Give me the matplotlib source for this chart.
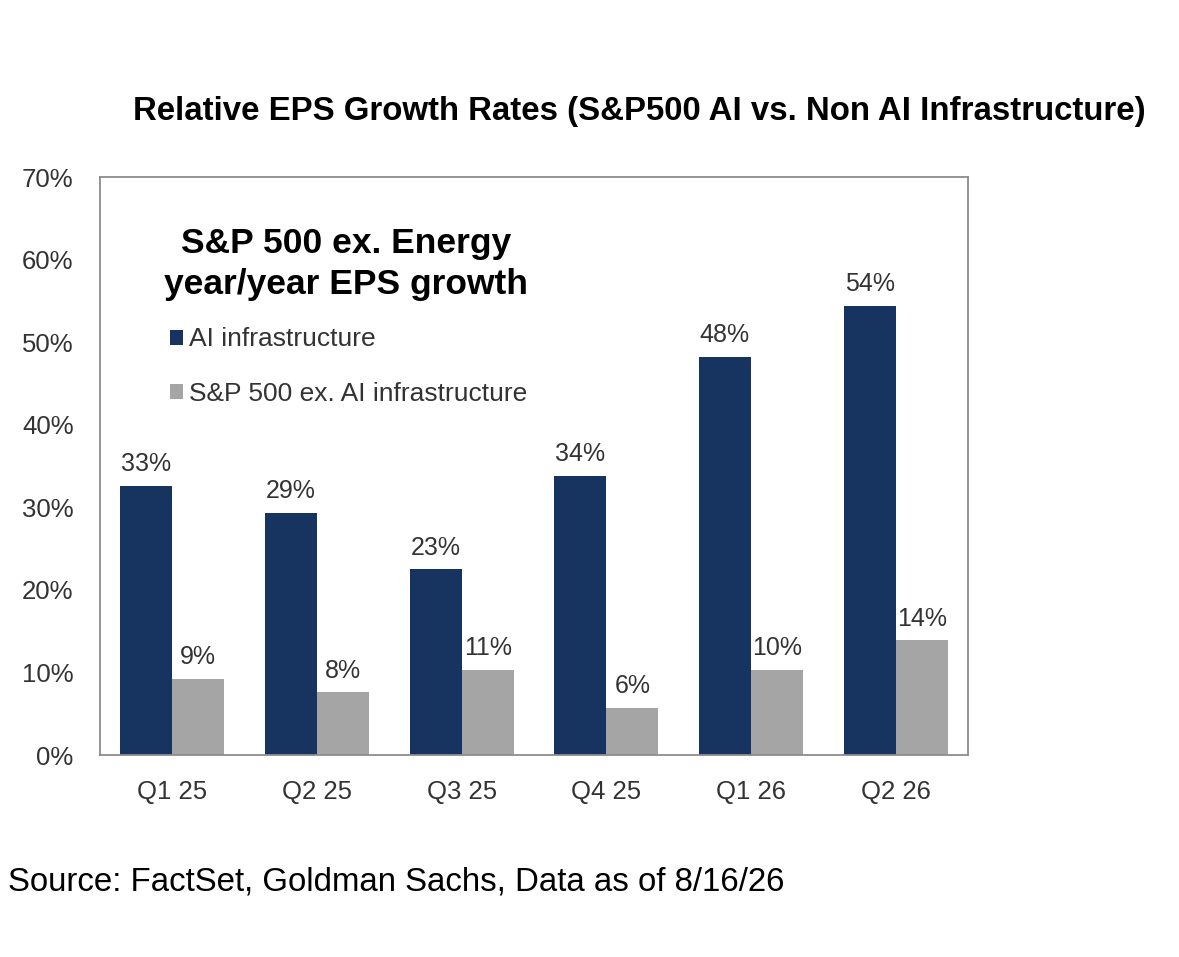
import numpy as np
import matplotlib.pyplot as plt

plt.rcParams['font.family'] = ['Liberation Sans', 'DejaVu Sans']

quarters = ["Q1 25", "Q2 25", "Q3 25", "Q4 25", "Q1 26", "Q2 26"]
ai_infra = [32.6, 29.3, 22.5, 33.8, 48.2, 54.4]
ex_ai = [9.2, 7.6, 10.3, 5.7, 10.3, 13.9]
ai_labels = ["33%", "29%", "23%", "34%", "48%", "54%"]
ex_ai_labels = ["9%", "8%", "11%", "6%", "10%", "14%"]

navy = "#17335f"
grey = "#a5a5a5"

fig = plt.figure(figsize=(11.79, 9.57), dpi=100)
ax = fig.add_axes([0.0848, 0.211, 0.7362, 0.604])

x = np.arange(len(quarters))
w = 0.36
b1 = ax.bar(x - w / 2, ai_infra, w, color=navy, label="AI infrastructure")
b2 = ax.bar(x + w / 2, ex_ai, w, color=grey, label="S&P 500 ex. AI infrastructure")

for bars, labs in [(b1, ai_labels), (b2, ex_ai_labels)]:
    for bar, lab in zip(bars, labs):
        ax.annotate(lab, (bar.get_x() + bar.get_width() / 2, bar.get_height()),
                    xytext=(0, 7), textcoords="offset points", ha="center", va="bottom",
                    fontsize=18, color="#333333")

ax.set_xlim(-0.5, len(quarters) - 0.5)
ax.set_ylim(0, 70)
ax.set_yticks(range(0, 71, 10))
ax.set_yticklabels([f"{v}%" for v in range(0, 71, 10)])
ax.set_xticks(x)
ax.set_xticklabels(quarters)
ax.tick_params(length=0, labelsize=18.5, labelcolor="#333333")
ax.tick_params(axis="y", pad=19)
ax.tick_params(axis="x", pad=18)
for s in ax.spines.values():
    s.set_color("#8c8c8c")
    s.set_linewidth(1.3)

ax.text(0.283, 0.85, "S&P 500 ex. Energy\nyear/year EPS growth", transform=ax.transAxes,
        ha="center", va="center", fontsize=25.5, fontweight="bold", linespacing=1.3)

leg = ax.legend(loc="upper left", bbox_to_anchor=(0.068, 0.758), frameon=False,
                fontsize=19, handlelength=0.5, handleheight=0.5, handletextpad=0.25,
                labelspacing=1.15, borderaxespad=0)
for t in leg.get_texts():
    t.set_color("#333333")

fig.text(0.542, 0.884, "Relative EPS Growth Rates (S&P500 AI vs. Non AI Infrastructure)",
         ha="center", va="center", fontsize=23.8, fontweight="bold")
fig.text(0.007, 0.078, "Source: FactSet, Goldman Sachs, Data as of 8/16/26",
         ha="left", va="center", fontsize=23.8)

fig.savefig("out.png", dpi=100)
